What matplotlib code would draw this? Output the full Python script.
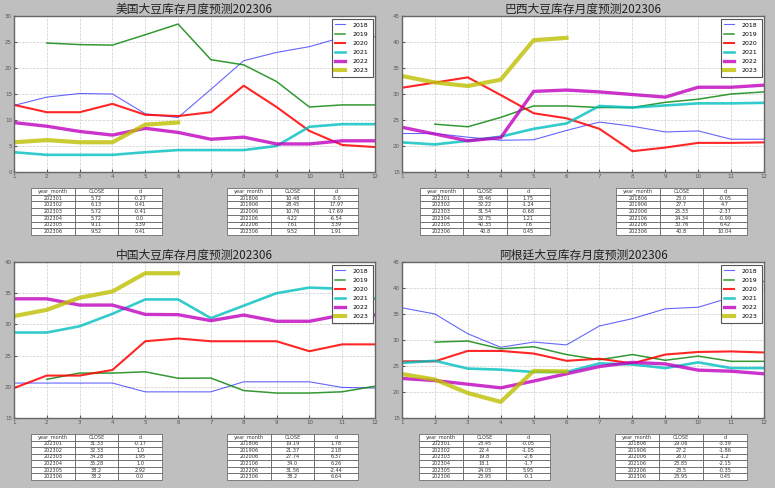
import numpy as np
import matplotlib
matplotlib.use("Agg")
import matplotlib.pyplot as plt

nan = np.nan
months = list(range(1, 13))
years = ["2018", "2019", "2020", "2021", "2022", "2023"]

titles = ["美国大豆库存月度预测202306", "巴西大豆库存月度预测202306",
          "中国大豆库存月度预测202306", "阿根廷大豆库存月度预测202306"]

us = {
    "2018": [12.8, 14.4, 15.1, 15.0, 11.2, 10.48, 15.9, 21.4, 23.0, 24.1, 25.9, 26.0],
    "2019": [nan, 24.8, 24.5, 24.4, 26.4, 28.45, 21.6, 20.6, 17.4, 12.5, 12.9, 12.9],
    "2020": [12.9, 11.5, 11.5, 13.1, 11.0, 10.76, 11.5, 16.6, 12.5, 7.9, 5.2, 4.8],
    "2021": [3.8, 3.3, 3.3, 3.3, 3.8, 4.22, 4.22, 4.22, 5.0, 8.7, 9.2, 9.2],
    "2022": [9.5, 8.8, 7.8, 7.1, 8.4, 7.61, 6.3, 6.7, 5.4, 5.4, 6.0, 6.0],
    "2023": [5.72, 6.13, 5.72, 5.72, 9.11, 9.52],
}
brazil = {
    "2018": [22.4, 22.4, 21.7, 21.1, 21.2, 23.0, 24.6, 23.8, 22.7, 22.9, 21.3, 21.3],
    "2019": [nan, 24.2, 23.7, 25.5, 27.7, 27.7, 27.4, 27.4, 28.4, 29.0, 30.0, 30.4],
    "2020": [31.2, 32.2, 33.2, 29.8, 26.3, 25.33, 23.3, 19.0, 19.7, 20.6, 20.6, 20.7],
    "2021": [20.7, 20.3, 21.0, 21.8, 23.3, 24.34, 27.7, 27.4, 27.8, 28.2, 28.2, 28.3],
    "2022": [23.6, 22.3, 21.0, 21.6, 30.5, 30.76, 30.4, 29.9, 29.4, 31.3, 31.3, 31.7],
    "2023": [33.46, 32.22, 31.54, 32.75, 40.35, 40.8],
}
china = {
    "2018": [20.6, 20.6, 20.6, 20.6, 19.19, 19.19, 19.19, 20.8, 20.8, 20.8, 19.9, 19.8],
    "2019": [nan, 21.2, 22.2, 22.2, 22.4, 21.37, 21.4, 19.4, 19.0, 19.0, 19.2, 20.1],
    "2020": [19.8, 21.8, 21.8, 22.7, 27.3, 27.74, 27.3, 27.3, 27.3, 25.7, 26.8, 26.8],
    "2021": [28.7, 28.7, 29.7, 31.7, 34.0, 34.0, 31.0, 33.0, 35.0, 35.9, 35.7, 34.1],
    "2022": [34.1, 34.1, 33.1, 33.1, 31.6, 31.56, 30.6, 31.5, 30.5, 30.5, 31.5, 31.5],
    "2023": [31.33, 32.33, 34.28, 35.28, 38.2, 38.2],
}
argentina = {
    "2018": [36.2, 35.0, 31.2, 28.6, 29.6, 29.06, 32.7, 34.1, 36.0, 36.3, 38.2, 41.3],
    "2019": [nan, 29.6, 29.8, 28.3, 28.7, 27.2, 26.2, 27.2, 26.1, 26.9, 25.9, 25.9],
    "2020": [25.9, 25.9, 27.9, 27.9, 27.4, 26.0, 26.4, 25.5, 27.2, 27.7, 27.8, 27.6],
    "2021": [25.6, 26.0, 24.5, 24.3, 23.85, 23.85, 25.5, 25.3, 24.6, 25.7, 24.6, 24.6],
    "2022": [22.6, 22.2, 21.5, 20.8, 22.1, 23.5, 24.9, 25.7, 25.4, 24.2, 24.0, 23.5],
    "2023": [23.45, 22.4, 19.8, 18.1, 24.05, 23.95],
}
series = [us, brazil, china, argentina]
ylims = [(0, 30), (15, 45), (15, 40), (15, 45)]

col_labels = ["year_month", "CLOSE", "d"]
left_ym = ["202301", "202302", "202303", "202304", "202305", "202306"]
right_ym = ["201806", "201906", "202006", "202106", "202206", "202306"]

us_left_close = ["5.72", "6.13", "5.72", "5.72", "9.11", "9.52"]
us_left_d = ["-0.27", "0.41", "-0.41", "0.0", "3.39", "0.41"]
us_right_close = ["10.48", "28.45", "10.76", "4.22", "7.61", "9.52"]
us_right_d = ["-3.0", "17.97", "-17.69", "-6.54", "3.39", "1.91"]

br_left_close = ["33.46", "32.22", "31.54", "32.75", "40.35", "40.8"]
br_left_d = ["1.75", "-1.24", "-0.68", "1.21", "7.6", "0.45"]
br_right_close = ["23.0", "27.7", "25.33", "24.34", "30.76", "40.8"]
br_right_d = ["-0.05", "4.7", "-2.37", "-0.99", "6.42", "10.04"]

cn_left_close = ["31.33", "32.33", "34.28", "35.28", "38.2", "38.2"]
cn_left_d = ["-0.17", "1.0", "1.95", "1.0", "2.92", "0.0"]
cn_right_close = ["19.19", "21.37", "27.74", "34.0", "31.56", "38.2"]
cn_right_d = ["1.78", "2.18", "6.37", "6.26", "-2.44", "6.64"]

ar_left_close = ["23.45", "22.4", "19.8", "18.1", "24.05", "23.95"]
ar_left_d = ["-0.05", "-1.05", "-2.6", "-1.7", "5.95", "-0.1"]
ar_right_close = ["29.06", "27.2", "26.0", "23.85", "23.5", "23.95"]
ar_right_d = ["-3.39", "-1.86", "-1.2", "-2.15", "-0.35", "0.45"]

tables = [
    ((us_left_close, us_left_d), (us_right_close, us_right_d)),
    ((br_left_close, br_left_d), (br_right_close, br_right_d)),
    ((cn_left_close, cn_left_d), (cn_right_close, cn_right_d)),
    ((ar_left_close, ar_left_d), (ar_right_close, ar_right_d)),
]

colors = {"2018": (0.0, 0.0, 1.0), "2019": (0.0, 0.5, 0.0), "2020": (1.0, 0.0, 0.0),
          "2021": (0.0, 0.75, 0.75), "2022": (0.75, 0.0, 0.75), "2023": (0.75, 0.75, 0.0)}
widths = {"2018": 0.8, "2019": 1.1, "2020": 1.5, "2021": 1.9, "2022": 2.4, "2023": 3.0}
alphas = {"2018": 0.6, "2019": 0.8, "2020": 0.85, "2021": 0.8, "2022": 0.8, "2023": 0.8}

W, H = 775, 488
fig = plt.figure(figsize=(W / 100, H / 100), dpi=100, facecolor=(0.75, 0.75, 0.75))

def fr(x0, y0, x1, y1):
    return [x0 / W, 1 - y1 / H, (x1 - x0) / W, (y1 - y0) / H]

axes_px = [(14, 16, 375, 172), (402, 16, 764, 172), (14, 262, 375, 418), (402, 262, 764, 418)]
table_px = [
    ((31, 188, 162, 235), (227, 188, 358, 235)),
    ((420, 188, 550, 235), (616, 188, 747, 235)),
    ((31, 434, 162, 480), (227, 434, 358, 480)),
    ((419, 434, 550, 480), (615, 434, 747, 480)),
]

for i in range(4):
    ax = fig.add_axes(fr(*axes_px[i]))
    ax.set_facecolor("white")
    data = series[i]
    for y in years:
        vals = data[y]
        ax.plot(months[:len(vals)], vals, color=colors[y], lw=widths[y],
                alpha=alphas[y], label=y)
    ax.set_xlim(1, 12)
    ax.set_ylim(*ylims[i])
    ax.set_xticks(months)
    ax.set_yticks(np.arange(ylims[i][0], ylims[i][1] + 1, 5))
    ax.tick_params(labelsize=4, colors="#555555", length=2, direction="in", pad=1.5)
    ax.grid(True, ls="--", color="#cccccc", lw=0.5)
    for s in ax.spines.values():
        s.set_color("#666666")
        s.set_linewidth(1.0)
    ax.set_title(titles[i], fontsize=8.5, pad=0, color="#222222",
                 family=["Noto Sans CJK SC", "DejaVu Sans"])
    leg = ax.legend(loc="upper right", fontsize=4.5, fancybox=False, framealpha=1,
                    edgecolor="#555555", handlelength=1.6, labelspacing=0.6,
                    borderpad=0.6, borderaxespad=0.4, handletextpad=1.2)
    leg.get_frame().set_linewidth(0.8)

    for j, (close, d) in enumerate(tables[i]):
        yms = left_ym if j == 0 else right_ym
        cell_text = [[yms[k], close[k], d[k]] for k in range(6)]
        tax = fig.add_axes(fr(*table_px[i][j]))
        tax.axis("off")
        tb = tax.table(cellText=cell_text, colLabels=col_labels, cellLoc="center",
                       bbox=[0, 0, 1, 1])
        tb.auto_set_font_size(False)
        tb.set_fontsize(3.6)
        for cell in tb.get_celld().values():
            cell.set_linewidth(0.5)
            cell.set_edgecolor("#555555")
            cell.get_text().set_color("#333333")

fig.savefig("out.png", dpi=100, facecolor=fig.get_facecolor())
